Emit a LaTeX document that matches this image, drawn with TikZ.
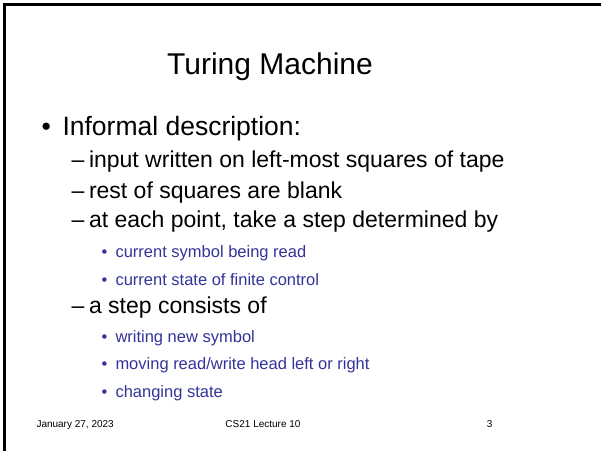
\documentclass[tikz,border=0pt]{standalone}
\usepackage{fontspec}
\setmainfont{Liberation Sans}
\definecolor{slideblue}{RGB}{51,51,153}
\tikzset{
  txt/.style={anchor=base west, inner sep=0pt},
  lvlone/.style={txt, font=\fontsize{26.5}{30}\selectfont},
  lvltwo/.style={txt, font=\fontsize{23}{27}\selectfont},
  lvlthree/.style={txt, text=slideblue, font=\fontsize{16.5}{20}\selectfont},
  foot/.style={inner sep=0pt, font=\fontsize{10}{12}\selectfont}
}
\begin{document}
\begin{tikzpicture}[x=1pt, y=-1pt, line width=3pt]
  \useasboundingbox (0,0) rectangle (601,451);
  % slide frame, top and left edge only
  \draw (4,451) -- (4,4) -- (601,4);
  % title
  \node[anchor=base, inner sep=0pt, font=\fontsize{30}{36}\selectfont] (title) at (270,74) {Turing Machine};
  % first level
  \node[lvlone] (b1) at (40,135) {•};
  \node[lvlone] (informal) at (61,135) {Informal description:};
  % second level
  \node[lvltwo] (d1) at (70,167) {–};
  \node[lvltwo] (input) at (87.5,167) {input written on left-most squares of tape};
  \node[lvltwo] (d2) at (70,198) {–};
  \node[lvltwo] (rest) at (87.5,198) {rest of squares are blank};
  \node[lvltwo] (d3) at (70,227) {–};
  \node[lvltwo] (each) at (87.5,227) {at each point, take a step determined by};
  % third level
  \node[lvlthree] (c1) at (100,257) {•};
  \node[lvlthree] (symbol) at (114,257) {current symbol being read};
  \node[lvlthree] (c2) at (100,285) {•};
  \node[lvlthree] (state) at (114,285) {current state of finite control};
  \node[lvltwo] (d4) at (70,313) {–};
  \node[lvltwo] (consists) at (87.5,313) {a step consists of};
  \node[lvlthree] (c3) at (100,342) {•};
  \node[lvlthree] (writing) at (114,342) {writing new symbol};
  \node[lvlthree] (c4) at (100,369) {•};
  \node[lvlthree] (moving) at (114,369) {moving read/write head left or right};
  \node[lvlthree] (c5) at (100,397) {•};
  \node[lvlthree] (changing) at (114,397) {changing state};
  % footer
  \node[foot, anchor=base west] (date) at (35,427) {January 27, 2023};
  \node[foot, anchor=base] (course) at (263,427) {CS21 Lecture 10};
  \node[foot, anchor=base east] (page) at (494,427) {3};
\end{tikzpicture}
\end{document}
